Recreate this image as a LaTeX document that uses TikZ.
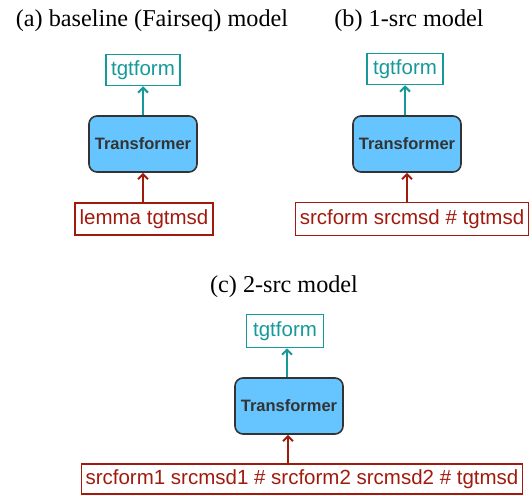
\documentclass[tikz,border=0pt]{standalone}
\usepackage{fontspec}
\setmainfont{Liberation Serif}
\newfontfamily\sansf{Liberation Sans}
\usetikzlibrary{arrows.meta}
\definecolor{tealc}{HTML}{16999A}
\definecolor{redc}{HTML}{A11A0E}
\definecolor{bluef}{HTML}{66C5FF}
\definecolor{grayb}{HTML}{333333}
\tikzset{
  caption/.style={anchor=base, font=\fontsize{24.2}{27}\selectfont},
  outbox/.style={draw=tealc, line width=1.5pt, text=tealc, inner sep=0pt,
    minimum height=31pt, font=\sansf\fontsize{20.5}{24}\selectfont},
  inbox/.style={draw=redc, line width=1.5pt, text=redc, inner sep=0pt,
    minimum height=32pt, font=\sansf\fontsize{20.5}{24}\selectfont},
  tfbox/.style={draw=grayb, line width=1.6pt, fill=bluef, rounded corners=8pt,
    text=grayb, inner sep=0pt, minimum width=108pt, minimum height=56pt,
    font=\sansf\bfseries\fontsize{16.5}{19}\selectfont},
  tealarrow/.style={draw=tealc, line width=2pt, -{Straight Barb[length=5pt,width=10pt]}},
  redarrow/.style={draw=redc, line width=2pt, -{Straight Barb[length=5pt,width=10pt]}},
}
\begin{document}
\begin{tikzpicture}[x=1pt,y=-1pt]
\useasboundingbox (0,0) rectangle (532,495);
% captions
\node[caption] (capa) at (152,27) {(a) baseline (Fairseq) model};
\node[caption] (capb) at (409,27) {(b) 1-src model};
\node[caption] (capc) at (284,292) {(c) 2-src model};
% panel a
\node[outbox, minimum width=74pt] (oa) at (143,70) {tgtform};
\node[tfbox] (ta) at (143,144) {Transformer};
\node[inbox, minimum width=138pt] (ia) at (144,219) {lemma tgtmsd};
\draw[tealarrow] (ta.north) -- (ta.north |- oa.south);
\draw[redarrow] (ta.south |- ia.north) -- (ta.south);
% panel b
\node[outbox, minimum width=76pt] (ob) at (405,69) {tgtform};
\node[tfbox] (tb) at (407,144) {Transformer};
\node[inbox, minimum width=233pt, minimum height=33pt] (ib) at (412,219) {srcform srcmsd \# tgtmsd};
\draw[tealarrow] ([xshift=-2pt]tb.north) -- ([xshift=-2pt]tb.north |- ob.south);
\draw[redarrow] (tb.south |- ib.north) -- (tb.south);
% panel c
\node[outbox, minimum width=77pt, minimum height=33pt] (oc) at (285,331) {tgtform};
\node[tfbox] (tc) at (289,406) {Transformer};
\node[inbox, minimum width=441pt, minimum height=30pt] (ic) at (302,479) {srcform1 srcmsd1 \# srcform2 srcmsd2 \# tgtmsd};
\draw[tealarrow] ([xshift=-2pt]tc.north) -- ([xshift=-2pt]tc.north |- oc.south);
\draw[redarrow] ([xshift=-1pt]tc.south |- ic.north) -- ([xshift=-1pt]tc.south);
\end{tikzpicture}
\end{document}
